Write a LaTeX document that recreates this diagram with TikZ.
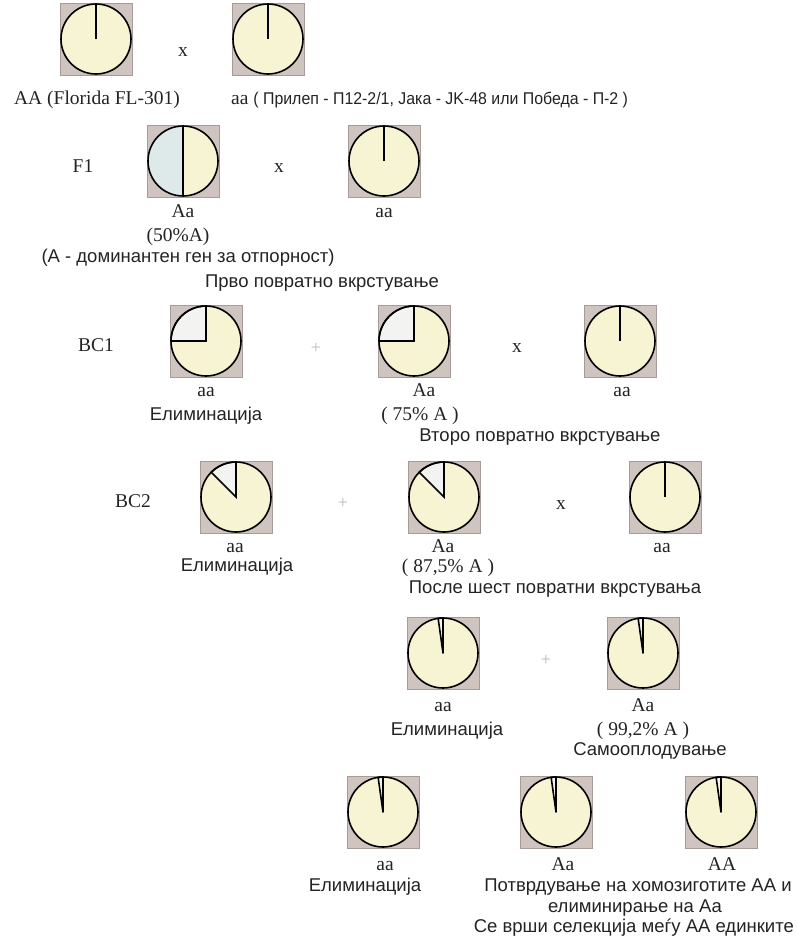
\documentclass[tikz,border=0pt]{standalone}
\usepackage{fontspec}
\setmainfont{Liberation Serif}
\setsansfont{Liberation Sans}
\usetikzlibrary{positioning}
\usepackage{xcolor}
\definecolor{cellbg}{RGB}{207,196,192}
\definecolor{cellrim}{RGB}{168,154,150}
\definecolor{seed}{RGB}{246,244,211}
\definecolor{halfbg}{RGB}{222,233,233}
\definecolor{cutbg}{RGB}{243,244,242}
\definecolor{ink}{RGB}{35,35,35}

\begin{document}
\begin{tikzpicture}
[x = 1pt, y = 1pt,
 cell/.style = {rectangle, draw=cellrim, line width=1pt, fill=cellbg, minimum size=72pt, inner sep=0pt},
 rad/.style = {draw=black, line width=1.6pt},
 gen/.style = {font=\fontsize{19.5}{21}\selectfont, text=ink, inner sep=0pt, text height=13pt, text depth=4pt},
 txt/.style = {font=\sffamily\fontsize{18.5}{20}\selectfont, text=ink, inner sep=0pt, text height=13pt, text depth=4pt},
 plus/.style = {font=\fontsize{18}{20}\selectfont, text=gray!55, inner sep=0pt}]

\useasboundingbox (0,0) rectangle (796,-938);

% cells
\node[cell] (c1) at (96,-39) {};
\node[cell] (c2) at (268,-39) {};
\node[cell] (c3) at (183,-161) {};
\node[cell] (c4) at (384,-161) {};
\node[cell] (c5) at (206,-341) {};
\node[cell] (c6) at (414,-341) {};
\node[cell] (c7) at (620,-341) {};
\node[cell] (c8) at (236,-497) {};
\node[cell] (c9) at (444,-497) {};
\node[cell] (c10) at (665,-497) {};
\node[cell] (c11) at (443,-653) {};
\node[cell] (c12) at (643,-653) {};
\node[cell] (c13) at (383,-812) {};
\node[cell] (c14) at (556,-812) {};
\node[cell] (c15) at (721,-812) {};

\foreach \cel in {c1,c2,c3,c4,c5,c6,c7,c8,c9,c10,c11,c12,c13,c14,c15}
  \fill[seed] (\cel) circle (35);

% parts of the circles
\fill[halfbg] (c3.center) -- ++(90:35) arc (90:270:35) -- cycle;
\draw[rad] ([yshift=-1pt]c3.north) -- ([yshift=1pt]c3.south);
\foreach \cel in {c1,c2,c4,c7,c10}
  \draw[rad] (\cel.center) -- ++(90:35);
\foreach \cel in {c5,c6}
  \filldraw[rad, fill=cutbg] (\cel.center) -- ++(90:35) arc (90:180:35) -- cycle;
\foreach \cel in {c8,c9}
  \filldraw[rad, fill=cutbg] (\cel.center) -- ++(90:35) arc (90:135:35) -- cycle;
\foreach \cel in {c11,c12,c13,c14,c15}
  \filldraw[rad, fill=cutbg, line join=round] (\cel.center) -- ++(90:35) arc (90:98:35) -- cycle;

\foreach \cel in {c1,c2,c3,c4,c5,c6,c7,c8,c9,c10,c11,c12,c13,c14,c15}
  \draw[rad] (\cel) circle (35);

% parents
\node[gen] (x1) at (183,-52) {x};
\node[gen] (g1) at (97,-100) {AA (Florida FL-301)};
\node[gen, anchor=west] (g2) at (231,-100) {aa {\sffamily\fontsize{17}{19}\selectfont\scalebox{0.935}[1]{( Прилеп - П12-2/1, Јака - JK-48 или Победа - П-2 )}}};

% F1
\node[gen] (f1) at (83,-168) {F1};
\node[gen] (x2) at (279,-168) {x};
\node[gen] (g3) at (183,-213) {Aa};
\node[gen] (g4) at (178,-237) {(50\%A)};
\node[gen] (g5) at (384,-213) {aa};
\node[txt] (t1) at (188,-258) {(А - доминантен ген за отпорност)};
\node[txt] (t2) at (322,-283) {Прво повратно вкрстување};

% BC1
\node[gen] (b1) at (96,-347) {BC1};
\node[plus] (s1) at (316,-348) {+};
\node[gen] (x3) at (517,-348) {x};
\node[gen] (g6) at (206,-392) {aa};
\node[txt] (t3) at (206,-416) {Елиминација};
\node[gen] (g7) at (424,-392) {Aa};
\node[gen] (g8) at (420,-416) {( 75\% A )};
\node[gen] (g9) at (622,-392) {aa};
\node[txt] (t4) at (540,-437) {Второ повратно вкрстување};

% BC2
\node[gen] (b2) at (133,-503) {BC2};
\node[plus] (s2) at (343,-503) {+};
\node[gen] (x4) at (561,-505) {x};
\node[gen] (g10) at (235,-548) {aa};
\node[txt] (t5) at (237,-567) {Елиминација};
\node[gen] (g11) at (443,-548) {Aa};
\node[gen] (g12) at (448,-568) {( 87,5\% A )};
\node[gen] (g13) at (662,-548) {aa};
\node[txt] (t6) at (555,-589) {После шест повратни вкрстувања};

% BC6
\node[plus] (s3) at (546,-660) {+};
\node[gen] (g14) at (443,-707) {aa};
\node[txt] (t7) at (447,-731) {Елиминација};
\node[gen] (g15) at (643,-707) {Aa};
\node[gen] (g16) at (643,-731) {( 99,2\% A )};
\node[txt] (t8) at (650,-751) {Самооплодување};

% selfing
\node[gen] (g17) at (385,-866) {aa};
\node[txt] (t9) at (365,-887) {Елиминација};
\node[gen] (g18) at (563,-866) {Aa};
\node[gen] (g19) at (722,-866) {AA};
\node[txt] (t10) at (638,-887) {Потврдување на хомозиготите АА и};
\node[txt] (t11) at (635,-908) {елиминирање на Аа};
\node[txt, anchor=east] (t12) at (794,-928) {Се врши селекција меѓу АА единките};

\end{tikzpicture}
\end{document}
